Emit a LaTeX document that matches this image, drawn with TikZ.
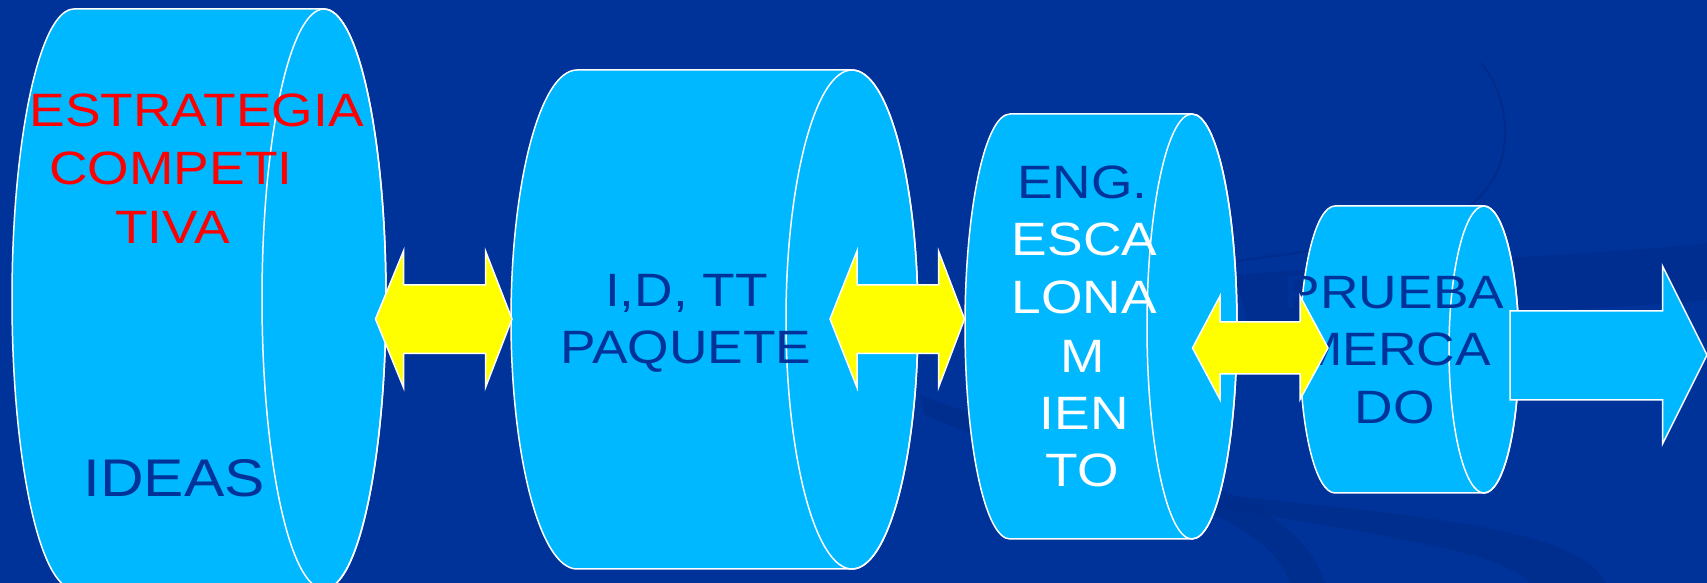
\documentclass[tikz,border=0pt]{standalone}
\usepackage{fontspec}
\newfontfamily\wf[FakeStretch=1.14]{Liberation Sans}
\definecolor{bg}{RGB}{0,51,153}
\definecolor{cyl}{RGB}{0,184,255}
\definecolor{txtb}{RGB}{0,51,153}
\definecolor{swirl}{RGB}{0,44,138}
\definecolor{yel}{RGB}{255,255,0}
\tikzset{
  cylfill/.style={fill=cyl,draw=white,line width=1.5pt,line join=round},
  cylrim/.style={draw=white,line width=1.5pt},
  yarrow/.style={fill=yel,draw=white,line width=1.5pt,line join=miter},
  carrow/.style={fill=cyl,draw=white,line width=1.5pt,line join=miter},
  lbl/.style={anchor=base,inner sep=0pt,font=\wf\fontsize{46.8}{56}\selectfont},
  biglbl/.style={anchor=base,inner sep=0pt,font=\wf\fontsize{53}{64}\selectfont},
}
\newcommand\mycyl[5]{% xl xr cy rx ry
  \path[cylfill] (#1,{#3+#5}) -- (#2,{#3+#5})
     arc[start angle=90,end angle=-90,x radius=#4,y radius=#5]
     -- (#1,{#3-#5})
     arc[start angle=270,end angle=90,x radius=#4,y radius=#5] -- cycle;
  \draw[cylrim] (#2,#3) ellipse[x radius=#4,y radius=#5];
}
\newcommand\dblarrow[9]{% lt ln rn rt tip headtop headbot shafttop shaftbot
  \path[yarrow] (#1,#5) -- (#2,#6) -- (#2,#8) -- (#3,#8) -- (#3,#6) -- (#4,#5)
     -- (#3,#7) -- (#3,#9) -- (#2,#9) -- (#2,#7) -- cycle;
}
\begin{document}
\begin{tikzpicture}[x=1pt,y=1pt]
\useasboundingbox (0,0) rectangle (1707,583);
\clip (0,0) rectangle (1707,583);
\fill[bg] (0,0) rectangle (1707,583);
% faint background swirls (image coordinates, y downwards)
\begin{scope}[yshift=583pt,yscale=-1]
  \draw[swirl,line width=2.5pt,opacity=0.8] (1481,63) .. controls (1512,100) and (1518,170) .. (1470,205)
     .. controls (1420,240) and (1300,252) .. (1230,262);
  \fill[swirl,opacity=0.6] (1234,275) .. controls (1400,262) and (1600,255) .. (1707,243)
     -- (1707,300) .. controls (1600,310) and (1400,318) .. (1250,330) -- cycle;
  \fill[swirl,opacity=0.7] (920,395) .. controls (1060,450) and (1290,470) .. (1325,583)
     -- (1290,583) .. controls (1260,495) and (1060,475) .. (925,415) -- cycle;
  \fill[swirl,opacity=0.7] (1180,490) .. controls (1400,515) and (1580,525) .. (1605,583)
     -- (1530,583) .. controls (1500,548) and (1350,532) .. (1180,500) -- cycle;
\end{scope}
% cylinders
\mycyl{74}{324}{284}{62}{290}
\mycyl{577}{852}{263.5}{66}{249.5}
\mycyl{1010}{1192}{256.5}{45}{212.5}
\mycyl{1335}{1484}{233.5}{35}{143.5}
% texts
\node[lbl,text=red] (t1) at (196.7,456) {ESTRATEGIA};
\node[lbl,text=red] (t2) at (171,398) {COMPETI};
\node[lbl,text=red] (t3) at (172.5,339.5) {TIVA};
\node[biglbl,text=txtb] (t4) at (174,86) {IDEAS};
\node[lbl,text=txtb] (t5) at (686.5,276.3) {I,D, TT};
\node[lbl,text=txtb] (t6) at (686,219.7) {PAQUETE};
\node[lbl,text=txtb] (t7) at (1082.3,384.7) {ENG.};
\node[lbl,text=white] (t8) at (1084.5,327) {ESCA};
\node[lbl,text=white] (t9) at (1084.3,269.7) {LONA};
\node[lbl,text=white] (t10) at (1082.7,210.3) {M};
\node[lbl,text=white] (t11) at (1084.3,153) {IEN};
\node[lbl,text=white] (t12) at (1082.5,96.3) {TO};
\node[lbl,text=txtb] (t13) at (1394.5,274.7) {PRUEBA};
\node[lbl,text=txtb] (t14) at (1394.5,217) {MERCA};
\node[lbl,text=txtb] (t15) at (1394.5,159.7) {DO};
% yellow double arrows
\dblarrow{375.5}{403.5}{485.5}{512}{264}{332}{195.5}{298}{229.5}
\dblarrow{830}{857}{938.5}{964.5}{264}{332}{195.5}{298}{229.5}
\dblarrow{1192.5}{1220}{1300}{1328}{235}{287}{183.5}{261}{209}
% outgoing cyan arrow
\path[carrow] (1510,272) -- (1662.5,272) -- (1662.5,317) -- (1707,228) -- (1662.5,139)
   -- (1662.5,183) -- (1510,183) -- cycle;
\end{tikzpicture}
\end{document}
